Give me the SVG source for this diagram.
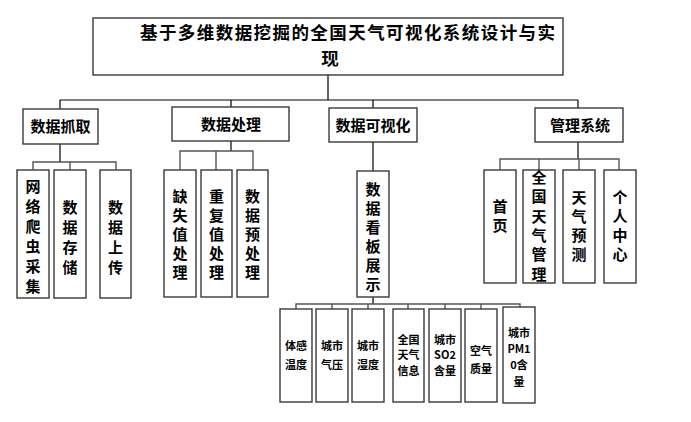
<svg xmlns="http://www.w3.org/2000/svg" width="691" height="422" viewBox="0 0 691 422">
<style>
.box{fill:#fff;stroke:#3a3a3a;stroke-width:1.4}
.t{font-family:"Noto Sans CJK SC","Liberation Sans",sans-serif;font-weight:bold;fill:#000;text-anchor:middle}
.l1{font-size:15px}
.v{font-size:15px}
.s{font-size:11px}
.c{fill:none;stroke:#000;stroke-width:1.2}
.g{fill:none;stroke:#555;stroke-width:1.4}
</style>
<rect width="691" height="422" fill="#fff"/>
<g id="connectors">
<path class="c" d="M328 75V100M60 100H578M60 100V109M231 100V107M373 100V108M578 100V108"/>
<path class="c" d="M60 144V162"/><path class="g" d="M33 170V162H116V170M70 162V170"/>
<path class="c" d="M231 141V151"/><path class="g" d="M180 170V151H253V170M216 151V170"/>
<path class="c" d="M373 142V171"/>
<path class="c" d="M578 142V159"/><path class="g" d="M500 170V159H619V170M539 159V170M579 159V170"/>
<path class="c" d="M373 297V304"/><path class="g" d="M296 309V304H520V307M332 304V309M368 304V309M408 304V309M445 304V309M481 304V309"/>
</g>
<g id="title"><rect class="box" x="93" y="18" width="470" height="57"/>
<text class="t" style="font-size:17.5px"><tspan x="140" y="38.5" style="text-anchor:start" textLength="415">基于多维数据挖掘的全国天气可视化系统设计与实</tspan><tspan x="330" y="64.5">现</tspan></text></g>
<g id="n1"><rect class="box" x="23" y="109" width="75" height="35"/><text class="t l1" x="60.5" y="132">数据抓取</text></g>
<g id="n2"><rect class="box" x="172" y="107" width="117" height="34"/><text class="t l1" x="231" y="130">数据处理</text></g>
<g id="n3"><rect class="box" x="329" y="108" width="88" height="34"/><text class="t l1" x="373" y="131">数据可视化</text></g>
<g id="n4"><rect class="box" x="535" y="108" width="88" height="34"/><text class="t l1" x="580" y="131">管理系统</text></g>
<g id="n11"><rect class="box" x="17" y="170" width="32" height="128"/><text class="t v" x="33" y="192"><tspan x="33">网</tspan><tspan x="33" dy="20">络</tspan><tspan x="33" dy="20">爬</tspan><tspan x="33" dy="20">虫</tspan><tspan x="33" dy="20">采</tspan><tspan x="33" dy="20">集</tspan></text></g>
<g id="n12"><rect class="box" x="54" y="170" width="32" height="128"/><text class="t v" x="70" y="213"><tspan x="70">数</tspan><tspan x="70" dy="20">据</tspan><tspan x="70" dy="20">存</tspan><tspan x="70" dy="20">储</tspan></text></g>
<g id="n13"><rect class="box" x="100" y="170" width="31" height="128"/><text class="t v" x="115.5" y="213"><tspan x="115.5">数</tspan><tspan x="115.5" dy="20">据</tspan><tspan x="115.5" dy="20">上</tspan><tspan x="115.5" dy="20">传</tspan></text></g>
<g id="n21"><rect class="box" x="164" y="170" width="32" height="127"/><text class="t v" x="180" y="202"><tspan x="180">缺</tspan><tspan x="180" dy="19">失</tspan><tspan x="180" dy="19">值</tspan><tspan x="180" dy="19">处</tspan><tspan x="180" dy="19">理</tspan></text></g>
<g id="n22"><rect class="box" x="201" y="170" width="31" height="127"/><text class="t v" x="216.5" y="202"><tspan x="216.5">重</tspan><tspan x="216.5" dy="19">复</tspan><tspan x="216.5" dy="19">值</tspan><tspan x="216.5" dy="19">处</tspan><tspan x="216.5" dy="19">理</tspan></text></g>
<g id="n23"><rect class="box" x="237" y="170" width="31" height="127"/><text class="t v" x="252.5" y="202"><tspan x="252.5">数</tspan><tspan x="252.5" dy="19">据</tspan><tspan x="252.5" dy="19">预</tspan><tspan x="252.5" dy="19">处</tspan><tspan x="252.5" dy="19">理</tspan></text></g>
<g id="n31"><rect class="box" x="357" y="171" width="32" height="126"/><text class="t v" x="373" y="195"><tspan x="373">数</tspan><tspan x="373" dy="19">据</tspan><tspan x="373" dy="19">看</tspan><tspan x="373" dy="19">板</tspan><tspan x="373" dy="19">展</tspan><tspan x="373" dy="19">示</tspan></text></g>
<g id="n41"><rect class="box" x="484" y="170" width="32" height="113"/><text class="t v" x="500" y="212"><tspan x="500">首</tspan><tspan x="500" dy="19">页</tspan></text></g>
<g id="n42"><rect class="box" x="523" y="170" width="32" height="113"/><text class="t v" x="539" y="183"><tspan x="539">全</tspan><tspan x="539" dy="19.3">国</tspan><tspan x="539" dy="19.3">天</tspan><tspan x="539" dy="19.3">气</tspan><tspan x="539" dy="19.3">管</tspan><tspan x="539" dy="19.3">理</tspan></text></g>
<g id="n43"><rect class="box" x="563" y="170" width="32" height="113"/><text class="t v" x="579" y="203"><tspan x="579">天</tspan><tspan x="579" dy="19">气</tspan><tspan x="579" dy="19">预</tspan><tspan x="579" dy="19">测</tspan></text></g>
<g id="n44"><rect class="box" x="604" y="170" width="32" height="113"/><text class="t v" x="620" y="203"><tspan x="620">个</tspan><tspan x="620" dy="19">人</tspan><tspan x="620" dy="19">中</tspan><tspan x="620" dy="19">心</tspan></text></g>
<g id="n51"><rect class="box" x="280" y="309" width="32" height="93"/><text class="t s" x="296" y="350"><tspan x="296">体感</tspan><tspan x="296" dy="19">温度</tspan></text></g>
<g id="n52"><rect class="box" x="316" y="309" width="32" height="93"/><text class="t s" x="332" y="350"><tspan x="332">城市</tspan><tspan x="332" dy="19">气压</tspan></text></g>
<g id="n53"><rect class="box" x="352" y="309" width="32" height="93"/><text class="t s" x="368" y="350"><tspan x="368">城市</tspan><tspan x="368" dy="19">湿度</tspan></text></g>
<g id="n54"><rect class="box" x="393" y="309" width="31" height="93"/><text class="t s" x="408.5" y="344"><tspan x="408.5">全国</tspan><tspan x="408.5" dy="15">天气</tspan><tspan x="408.5" dy="16">信息</tspan></text></g>
<g id="n55"><rect class="box" x="429" y="309" width="32" height="93"/><text class="t s" x="445" y="344"><tspan x="445">城市</tspan><tspan x="445" dy="15">SO2</tspan><tspan x="445" dy="16">含量</tspan></text></g>
<g id="n56"><rect class="box" x="465" y="309" width="32" height="93"/><text class="t s" x="481" y="355"><tspan x="481">空气</tspan><tspan x="481" dy="18">质量</tspan></text></g>
<g id="n57"><rect class="box" x="503" y="307" width="32" height="96"/><text class="t s" x="519" y="337"><tspan x="519">城市</tspan><tspan x="519" dy="16">PM1</tspan><tspan x="519" dy="16">0含</tspan><tspan x="519" dy="17">量</tspan></text></g>
</svg>
